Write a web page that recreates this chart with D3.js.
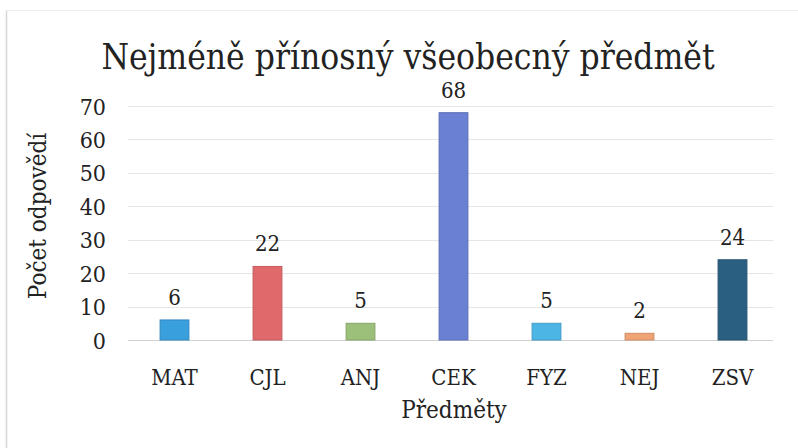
<!DOCTYPE html>
<head>
    <meta charset="utf-8">
    <title>Nejméně přínosný předmět</title>
    <style>
      body { margin: 0; background: #fff; }
      text { font-family: "DejaVu Serif Condensed", "DejaVu Serif", serif; fill: #222; }
    </style>
</head>
<body>
</body>
<script src="https://cdn.jsdelivr.net/npm/d3@7"></script>
<script>

// data
const subjects = ["MAT", "CJL", "ANJ", "CEK", "FYZ", "NEJ", "ZSV"];
const counts = [6, 22, 5, 68, 5, 2, 24];
const barColors = ["#3a9fdd", "#e0696b", "#9cc07a", "#6a80d2", "#4db4e6", "#f0a374", "#2b5f82"];
const yTicks = [0, 10, 20, 30, 40, 50, 60, 70];

const width = 798;
const height = 448;
const marginTop = 106;
const marginRight = 19;
const marginBottom = 108;
const marginLeft = 128;

let svg = d3.select("body").append("svg")
    .attr("width", width)
    .attr("height", height)

// faint frame of the scanned chart box
svg.append("line").attr("x1", 6.5).attr("x2", 6.5).attr("y1", 10).attr("y2", height)
    .attr("stroke", "#d6d6d6").attr("stroke-width", 1.5)
svg.append("line").attr("x1", 6).attr("x2", width).attr("y1", 10.5).attr("y2", 10.5)
    .attr("stroke", "#eeeeee")

const x = d3.scaleBand()
    .domain(subjects)
    .range([marginLeft, width - marginRight])
    .paddingInner(0.69)
    .paddingOuter(0.345)

const y = d3.scaleLinear()
    .domain([0, 70])
    .range([height - marginBottom, marginTop])

// gridlines
svg.append("g")
  .selectAll("line")
  .data(yTicks)
  .join("line")
    .attr("x1", marginLeft)
    .attr("x2", width - marginRight - 6)
    .attr("y1", d => Math.round(y(d)) + 0.5)
    .attr("y2", d => Math.round(y(d)) + 0.5)
    .attr("stroke", d => d === 0 ? "#d0d0d0" : "#e6e6e6")

// y axis labels
const yAxis = svg.append("g")
    .attr("transform", `translate(${marginLeft - 22},0)`)
    .call(d3.axisLeft(y).tickValues(yTicks).tickSize(0).tickPadding(0))
yAxis.select(".domain").remove()
yAxis.selectAll("text").attr("font-size", 23).attr("font-family", null).attr("fill", "#222").attr("dy", "0.35em")

// bars
svg.append("g")
  .selectAll("rect")
  .data(subjects)
  .join("rect")
    .attr("x", d => x(d))
    .attr("y", (d, i) => y(counts[i]))
    .attr("width", x.bandwidth())
    .attr("height", (d, i) => y(0) - y(counts[i]))
    .attr("fill", (d, i) => barColors[i])
    .attr("stroke", (d, i) => d3.color(barColors[i]).darker(0.4))
    .attr("stroke-width", 1)

// value labels
svg.append("g")
  .selectAll("text")
  .data(subjects)
  .join("text")
    .attr("x", d => x(d) + x.bandwidth() / 2)
    .attr("y", (d, i) => y(counts[i]) - 15)
    .attr("text-anchor", "middle")
    .attr("font-size", 22)
    .text((d, i) => counts[i])

// x axis labels
const xAxis = svg.append("g")
    .attr("transform", `translate(0,${height - marginBottom})`)
    .call(d3.axisBottom(x).tickSize(0).tickPadding(0))
xAxis.select(".domain").remove()
xAxis.selectAll("text").attr("font-size", 22).attr("font-family", null).attr("fill", "#222")
    .attr("y", 45).attr("dy", null)

// titles
svg.append("text")
    .attr("x", 408)
    .attr("y", 69)
    .attr("text-anchor", "middle")
    .attr("font-size", 35)
    .text("Nejméně přínosný všeobecný předmět")

svg.append("text")
    .attr("x", 454)
    .attr("y", 418)
    .attr("text-anchor", "middle")
    .attr("font-size", 24)
    .text("Předměty")

svg.append("text")
    .attr("transform", "translate(46,216) rotate(-90)")
    .attr("text-anchor", "middle")
    .attr("font-size", 24)
    .text("Počet odpovědí")

</script>
